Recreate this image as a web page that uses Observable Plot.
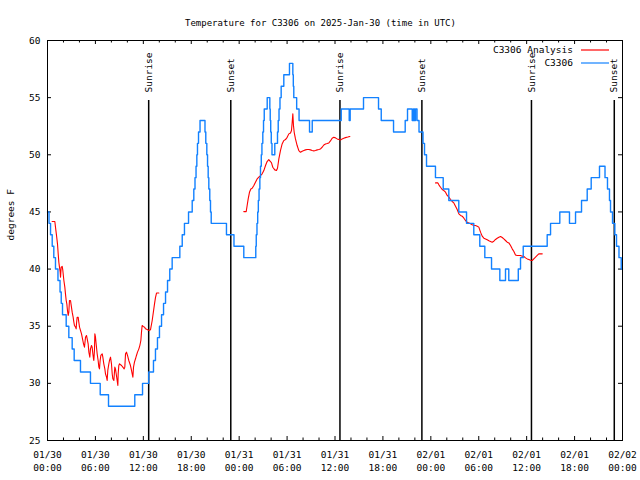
<!DOCTYPE html>
<html><head><meta charset="utf-8">
<script src="https://cdn.jsdelivr.net/npm/d3@7"></script>
<script src="https://cdn.jsdelivr.net/npm/@observablehq/plot@0.6"></script>
<style>body{margin:0;background:#fff} svg{display:block}</style>
</head><body><div id="chart"></div>
<script>
// ---------- data ----------
const chartTitle = "Temperature for C3306 on 2025-Jan-30 (time in UTC)";
const yAxisLabel = "degrees F";
const seriesNames = ["C3306 Analysis", "C3306"];
const startUTC = Date.UTC(2025, 0, 30); // hours below are counted from 01/30 00:00 UTC
const xDomainHours = [0, 72];
const yDomain = [25, 60];
const yTicks = [25, 30, 35, 40, 45, 50, 55, 60];
const xLabelHours = [0, 6, 12, 18, 24, 30, 36, 42, 48, 54, 60, 66, 72];
const xMinorHours = d3.range(0, 73, 2);
const eventNames = ["Sunrise", "Sunset", "Sunrise", "Sunset", "Sunrise", "Sunset"];
const eventHours = [12.67, 22.95, 36.62, 46.88, 60.6, 70.97];

// observed station temperature [hour, degF] (value holds until next entry)
const observed = [
  [0,45],[0.19,44],[0.38,43],[0.59,42],[0.79,41],[1.0,40],[1.31,39],[1.57,38],[1.72,37],[1.88,36],
  [2.34,35],[2.67,34],[3.09,33],[3.34,32],[4.13,31],[5.38,30],[6.6,29],[7.64,28],[10.93,29],[11.9,30],
  [12.68,31],[13.27,32],[13.52,33],[13.77,34],[14.02,35],[14.28,36],[14.53,37],[14.78,38],[15.03,39],[15.31,40],
  [15.61,41],[16.57,42],[16.87,43],[17.15,44],[17.66,45],[18.12,46],[18.32,47],[18.47,48],[18.6,49],[18.7,50],
  [18.78,51],[18.91,52],[19.1,53],[19.72,52],[19.82,51],[19.95,50],[20.04,49],[20.12,48],[20.2,47],[20.32,46],
  [20.41,45],[20.5,44],[22.41,43],[23.35,42],[24.58,41],[26.08,42],[26.14,43],[26.23,44],[26.32,45],[26.4,46],
  [26.49,47],[26.59,48],[26.67,49],[26.77,50],[26.85,51],[26.96,52],[27.05,53],[27.14,54],[27.51,55],[27.84,54],
  [27.89,53],[27.95,52],[28.02,51],[28.11,50],[28.46,51],[28.8,52],[28.89,53],[28.99,54],[29.11,55],[29.26,56],
  [29.59,57],[30.3,58],[30.72,57],[30.78,56],[30.84,55],[31.2,54],[31.5,53],[32.81,52],[33.15,53],[36.78,54],
  [37.78,53],[37.9,54],[39.57,55],[41.45,54],[41.79,53],[43.33,52],[44.79,53],[45.08,54],[45.67,53],[45.83,54],
  [45.96,53],[46.08,54],[46.27,53],[46.52,52],[47.02,51],[47.21,50],[47.46,49],[48.58,48],[49.55,47],[50.25,46],
  [51.5,45],[52.47,44],[53.38,43],[54.13,42],[54.76,41],[55.6,40],[56.64,39],[57.35,40],[57.76,39],[58.95,40],
  [59.23,41],[59.57,42],[62.57,43],[62.99,44],[64.15,45],[65.36,44],[66.12,45],[66.87,46],[67.58,47],[68.08,48],
  [69.12,49],[69.81,48],[70.12,47],[70.37,46],[70.5,45],[70.75,44],[71.04,43],[71.25,42],[71.56,41],[71.84,40],[72,40]
];

// analysis temperature, three runs [hour, degF]
const analysisRun1 = [
  [0.58,44.16],[0.92,44.16],[1.0,43.67],[1.13,42.94],[1.25,42.21],[1.34,41.33],[1.42,40.6],[1.5,40.17],[1.59,39.73],[1.63,39.29],
  [1.71,40.17],[1.84,40.23],[1.92,39.88],[2.05,39.0],[2.17,38.42],[2.25,37.83],[2.34,37.25],[2.42,36.96],[2.5,36.38],[2.59,35.94],
  [2.67,36.23],[2.75,37.25],[2.88,37.25],[3.0,36.67],[3.09,36.23],[3.21,35.79],[3.3,35.36],[3.38,35.06],[3.51,34.92],[3.59,34.77],
  [3.63,35.21],[3.71,35.79],[3.84,35.79],[3.92,35.36],[4.01,34.92],[4.13,34.63],[4.26,34.33],[4.34,34.04],[4.51,33.46],[4.63,33.17],
  [4.76,34.04],[4.88,34.19],[4.97,33.9],[5.09,33.46],[5.18,32.73],[5.3,32.29],[5.38,33.02],[5.51,33.31],[5.59,33.17],[5.68,32.58],
  [5.76,32.15],[5.8,32.0],[5.88,32.88],[5.93,34.33],[6.01,34.04],[6.09,33.46],[6.22,32.58],[6.34,32.0],[6.43,31.42],[6.51,31.27],
  [6.59,32.0],[6.68,32.44],[6.85,32.58],[6.93,32.29],[7.05,31.71],[7.18,31.27],[7.26,30.84],[7.39,30.54],[7.47,30.25],[7.55,31.13],
  [7.68,31.71],[7.76,32.0],[7.89,32.29],[8.01,31.71],[8.1,30.84],[8.18,30.4],[8.31,30.25],[8.43,31.42],[8.51,31.27],[8.6,30.84],
  [8.72,30.25],[8.81,29.81],[8.85,30.84],[8.93,31.56],[9.02,31.71],[9.27,31.56],[9.43,31.42],[9.6,31.27],[9.68,31.42],[9.77,32.58],
  [9.89,32.73],[10.02,32.44],[10.18,32.0],[10.39,31.56],[10.52,31.13],[10.6,30.84],[10.69,30.54],[10.77,31.42],[10.89,31.86],[11.02,32.15],
  [11.14,32.44],[11.27,32.73],[11.44,33.02],[11.56,33.31],[11.69,33.75],[11.77,34.48],[11.85,35.06],[11.98,34.98],[12.15,34.92],[12.27,34.77],
  [12.48,34.71],[12.69,34.63],[12.9,34.7],[13.11,35.5],[13.4,36.96],[13.52,37.5],[13.65,37.9],[13.94,37.9]
];
const analysisRun2 = [
  [24.58,45.03],[24.88,45.03],[25.0,45.56],[25.13,46.14],[25.29,46.72],[25.46,47.01],[25.63,47.07],[25.84,47.31],[26.04,47.6],[26.25,47.89],
  [26.46,48.04],[26.67,48.18],[26.88,48.33],[27.09,48.62],[27.3,49.06],[27.5,49.41],[27.71,49.58],[27.92,49.41],[28.05,49.29],[28.21,48.91],
  [28.46,48.68],[28.67,48.62],[28.8,48.82],[28.97,49.64],[29.17,50.37],[29.38,50.95],[29.59,51.24],[29.8,51.33],[30.01,51.53],[30.22,51.83],
  [30.43,51.91],[30.55,52.12],[30.64,52.85],[30.72,53.58],[30.8,52.56],[30.89,51.97],[31.05,51.39],[31.26,50.81],[31.47,50.37],[31.68,50.22],
  [31.89,50.31],[32.1,50.37],[32.3,50.43],[32.51,50.46],[32.72,50.46],[32.93,50.43],[33.14,50.37],[33.35,50.34],[33.56,50.37],[33.77,50.43],
  [33.97,50.46],[34.18,50.51],[34.39,50.66],[34.6,50.86],[34.81,50.95],[35.02,50.98],[35.23,51.04],[35.43,51.21],[35.64,51.45],[35.85,51.53],
  [36.06,51.48],[36.27,51.39],[36.48,51.33],[36.69,51.3],[36.9,51.39],[37.1,51.45],[37.31,51.5],[37.6,51.55],[37.86,51.6]
];
const analysisRun3 = [
  [48.59,47.54],[48.88,47.54],[49.01,47.37],[49.21,47.16],[49.42,46.96],[49.63,46.87],[49.84,46.73],[50.05,46.44],[50.26,46.29],[50.47,46.09],
  [50.67,45.91],[50.88,45.79],[51.09,45.5],[51.3,45.21],[51.51,44.83],[51.72,44.69],[51.93,44.63],[52.14,44.45],[52.34,44.25],[52.55,44.1],
  [52.76,44.04],[52.97,43.96],[53.18,43.87],[53.39,43.81],[53.6,43.81],[53.81,43.75],[54.01,43.67],[54.22,43.23],[54.43,42.88],[54.64,42.7],
  [54.85,42.64],[55.06,42.56],[55.27,42.47],[55.47,42.41],[55.68,42.35],[55.89,42.44],[56.1,42.59],[56.31,42.7],[56.52,42.79],[56.73,42.85],
  [56.94,42.76],[57.14,42.64],[57.35,42.5],[57.56,42.35],[57.77,42.29],[57.98,42.06],[58.19,41.77],[58.4,41.54],[58.6,41.24],[58.81,41.19],
  [59.02,41.19],[59.23,41.19],[59.44,41.13],[59.65,41.1],[59.86,40.98],[60.07,40.89],[60.27,40.84],[60.48,40.77],[60.69,40.75],[61.02,40.98],
  [61.32,41.19],[61.52,41.33],[61.95,41.33]
];

// ---------- build ----------
const W = 640, H = 480, mL = 47, mR = 18, mT = 40, mB = 40;
const innerW = W - mL - mR, innerH = H - mT - mB;
const FONT = "DejaVu Sans Mono";
const FS = 9.5;
const BLUE = "#1281ff", RED = "#ff0000";
const toDate = h => new Date(startUTC + h * 3600e3);
const obsRows = observed.map(([h, t]) => ({date: toDate(h), temp: t}));
const anaRows = [analysisRun1, analysisRun2, analysisRun3].flatMap((run, i) =>
  run.map(([h, t]) => ({date: toDate(h), temp: t, run: i})));
const events = eventNames.map((n, i) => ({name: n, date: toDate(eventHours[i])}));
const ySpan = yDomain[1] - yDomain[0];
const ruleTop = yDomain[0] + 0.85 * ySpan;
const labelY = yDomain[0] + 0.87 * ySpan;
const fmtDay = d3.utcFormat("%m/%d"), fmtTime = d3.utcFormat("%H:%M");
const majorDates = xLabelHours.map(toDate);
const minorDates = xMinorHours.filter(h => h % 6 !== 0).map(toDate);

const plot = Plot.plot({
  width: W, height: H,
  marginLeft: mL, marginRight: mR, marginTop: mT, marginBottom: mB,
  style: {fontFamily: FONT, fontSize: FS + "px", background: "#fff", color: "#000"},
  x: {type: "utc", domain: xDomainHours.map(toDate)},
  y: {domain: yDomain},
  marks: [
    Plot.axisY({ticks: yTicks, tickSize: 0, tickPadding: 7, label: null, fontSize: FS}),
    Plot.axisX({ticks: majorDates, tickSize: 0, tickPadding: 8, label: null, fontSize: FS, lineHeight: 1.37,
      tickFormat: d => fmtDay(d) + "\n" + fmtTime(d)}),
    // inward tick marks on all four sides
    Plot.tickX(majorDates, {x: d => d, insetTop: innerH - 4, stroke: "#000"}),
    Plot.tickX(majorDates, {x: d => d, insetBottom: innerH - 4, stroke: "#000"}),
    Plot.tickX(minorDates, {x: d => d, insetTop: innerH - 2.5, stroke: "#000"}),
    Plot.tickX(minorDates, {x: d => d, insetBottom: innerH - 2.5, stroke: "#000"}),
    Plot.tickY(yTicks, {y: d => d, insetRight: innerW - 4, stroke: "#000"}),
    Plot.tickY(yTicks, {y: d => d, insetLeft: innerW - 4, stroke: "#000"}),
    // sunrise / sunset
    Plot.ruleX(events, {x: "date", y1: yDomain[0], y2: ruleTop, stroke: "#000", strokeWidth: 1.5}),
    Plot.text(events, {x: "date", y: labelY, text: "name", rotate: -90, textAnchor: "start",
      lineAnchor: "middle", fontSize: FS, fill: "#000"}),
    // series
    Plot.line(anaRows, {x: "date", y: "temp", z: "run", stroke: RED, strokeWidth: 1.1}),
    Plot.line(obsRows, {x: "date", y: "temp", stroke: BLUE, strokeWidth: 1.4, curve: "step-after"}),
    Plot.frame({stroke: "#000", strokeWidth: 1}),
    // title and y label
    Plot.text([chartTitle], {frameAnchor: "top", dy: -21, dx: W / 2 - (mL + innerW / 2), fontSize: 9, fill: "#000"}),
    Plot.text([yAxisLabel], {frameAnchor: "left", dx: -37, rotate: -90, fontSize: FS, fill: "#000"})
  ]
});

// legend (top right, inside the frame)
const svg = d3.select(plot);
const legendColors = [RED, BLUE];
seriesNames.forEach((name, i) => {
  const y = mT + 10 + i * 13;
  svg.append("text").attr("x", W - mR - 49).attr("y", y).attr("dy", "0.32em")
    .attr("text-anchor", "end").attr("font-size", FS).attr("fill", "#000").text(name);
  svg.append("line").attr("x1", W - mR - 41).attr("x2", W - mR - 13).attr("y1", y).attr("y2", y)
    .attr("stroke", legendColors[i]).attr("stroke-width", 1.2);
});
document.getElementById("chart").appendChild(plot);
</script>
</body></html>
